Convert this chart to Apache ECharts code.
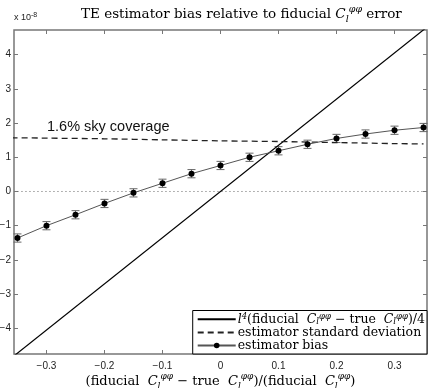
<!DOCTYPE html>
<html>
<head>
<meta charset="utf-8">
<script src="https://cdn.jsdelivr.net/npm/echarts@6/dist/echarts.min.js"></script>
<style>
  html, body { margin: 0; padding: 0; background: #fff; }
  #chart { width: 437px; height: 388px; }
</style>
</head>
<body>
<div id="chart"></div>
<script>
// values are in units of 1e-8
var xTicks = [-0.3, -0.2, -0.1, 0, 0.1, 0.2, 0.3];
var yTicks = [-4, -3, -2, -1, 0, 1, 2, 3, 4];

var biasX = [-0.35, -0.3, -0.25, -0.2, -0.15, -0.1, -0.05, 0, 0.05, 0.1, 0.15, 0.2, 0.25, 0.3, 0.35];
var biasY = [-1.36, -1.0, -0.68, -0.35, -0.04, 0.24, 0.52, 0.76, 1.0, 1.19, 1.38, 1.55, 1.68, 1.79, 1.87];
var biasErr = [0.12, 0.12, 0.12, 0.12, 0.12, 0.12, 0.12, 0.12, 0.12, 0.12, 0.12, 0.12, 0.12, 0.12, 0.12];

var sdX = [-0.36, -0.3, -0.2, -0.1, 0, 0.1, 0.2, 0.3, 0.35];
var sdY = [1.57, 1.56, 1.54, 1.51, 1.48, 1.46, 1.43, 1.40, 1.39];

var diffX = [-0.36, 0.36];
var diffY = [-4.86, 4.86];

var zeroX = [-0.35, 0.35];
var zeroY = [0, 0];

var chartCont = document.querySelector('#chart');
var myChart = echarts.init(chartCont);

function pairs(xs, ys) {
  return xs.map(function (x, i) { return [x, ys[i]]; });
}

var cl = '{it|C}{sub|l}{sup|φφ}';
var serif = 'DejaVu Serif';
var richSerif = function (size, lh) {
  var base = { fontFamily: serif, fontWeight: 'normal', color: '#000', lineHeight: lh || size + 6 };
  return {
    it: Object.assign({}, base, { fontStyle: 'italic', fontSize: size }),
    sub: Object.assign({}, base, { fontStyle: 'italic', fontSize: size - 4, verticalAlign: 'bottom' }),
    sup: Object.assign({}, base, { fontStyle: 'italic', fontSize: size - 4, verticalAlign: 'top' }),
    n: Object.assign({}, base, { fontSize: size })
  };
};

var legendNames = { diff: 'diff', sd: 'sd', bias: 'bias' };
var legendText = {
  diff: '{it|l}{sup|4}{n|(fiducial  }' + cl + '{n| − true  }' + cl + '{n|)/4}',
  sd: '{n|estimator standard deviation}',
  bias: '{n|estimator bias}'
};

var tickFmt = function (v) {
  var s = Math.abs(v) < 1e-9 ? '0' : (Math.abs(v) >= 1 ? String(Math.round(Math.abs(v))) : Math.abs(v).toFixed(1));
  return v < -1e-9 ? '\u2212' + s : s;
};

function tickCfg(vals) {
  return { show: true, inside: true, length: 4, customValues: vals, lineStyle: { color: '#777' } };
}
var noLine = { show: false, onZero: false };

option = {
  animation: false,
  backgroundColor: '#fff',
  title: {
    text: '{n|TE estimator bias relative to fiducial }' + cl + '{n| error}',
    left: 76,
    top: 0,
    textStyle: { rich: richSerif(13.5) }
  },
  grid: {
    left: 14, right: 10, top: 30, bottom: 34,
    outerBoundsMode: 'none',
    show: true, borderColor: '#777', borderWidth: 1.5, backgroundColor: '#fff'
  },
  xAxis: [
    {
      type: 'value', min: -0.356, max: 0.356, position: 'bottom',
      splitLine: { show: false }, axisLine: noLine, axisTick: tickCfg(xTicks),
      axisLabel: { customValues: xTicks, formatter: tickFmt, fontFamily: 'Liberation Sans', fontSize: 10, color: '#222', margin: 7 },
      name: '{n|(fiducial  }' + cl + '{n| − true  }' + cl + '{n|)/(fiducial  }' + cl + '{n|)}',
      nameLocation: 'middle',
      nameGap: 18,
      nameMoveOverlap: false,
      nameTextStyle: { rich: richSerif(13) }
    },
    {
      type: 'value', min: -0.356, max: 0.356, position: 'top',
      splitLine: { show: false }, axisLine: noLine, axisTick: tickCfg(xTicks),
      axisLabel: { show: false }
    }
  ],
  yAxis: [
    {
      type: 'value', min: -4.75, max: 4.72, position: 'left',
      splitLine: { show: false }, axisLine: noLine, axisTick: tickCfg(yTicks),
      axisLabel: { customValues: yTicks, formatter: tickFmt, fontFamily: 'Liberation Sans', fontSize: 10, color: '#222', margin: 3 }
    },
    {
      type: 'value', min: -4.75, max: 4.72, position: 'right',
      splitLine: { show: false }, axisLine: noLine, axisTick: tickCfg(yTicks),
      axisLabel: { show: false }
    }
  ],
  legend: {
    orient: 'vertical',
    right: 10,
    bottom: 34,
    align: 'left',
    itemWidth: 38,
    itemHeight: 7,
    itemGap: 0,
    padding: [2, 2, 2, 4],
    borderColor: '#000',
    borderWidth: 1,
    backgroundColor: '#fff',
    data: [
      { name: legendNames.diff, itemStyle: { opacity: 0 } },
      { name: legendNames.sd, itemStyle: { opacity: 0 } },
      { name: legendNames.bias }
    ],
    formatter: function (name) {
      for (var k in legendNames) { if (legendNames[k] === name) return legendText[k]; }
      return name;
    },
    textStyle: { rich: richSerif(12.5, 13.5), padding: [0, 0, 0, -3] }
  },
  graphic: [
    {
      type: 'text', left: 14, top: 12,
      style: { text: '{a|x 10}{b|-8}', rich: {
        a: { fontFamily: 'Liberation Sans', fontSize: 9, fill: '#222', lineHeight: 12 },
        b: { fontFamily: 'Liberation Sans', fontSize: 7, fill: '#222', verticalAlign: 'top', lineHeight: 12 }
      } }
    },
    {
      type: 'text', left: 47, top: 119,
      style: { text: '1.6% sky coverage', font: '14.5px "Liberation Sans"', fill: '#111' }
    }
  ],
  series: [
    {
      name: 'zero', type: 'line', data: pairs(zeroX, zeroY), symbol: 'none', silent: true,
      lineStyle: { color: '#666', width: 1, type: [1, 3] }
    },
    {
      name: legendNames.diff, type: 'line', data: pairs(diffX, diffY), symbol: 'none',
      lineStyle: { color: '#000', width: 1.2 }, itemStyle: { color: '#000' }, clip: true
    },
    {
      name: legendNames.sd, type: 'line', data: pairs(sdX, sdY), symbol: 'none', smooth: 0.3,
      lineStyle: { color: '#222', width: 1.3, type: [6, 4] }, itemStyle: { color: '#222' }, clip: true
    },
    {
      name: 'err', type: 'custom', silent: true,
      data: biasX.map(function (x, i) { return [x, biasY[i], biasErr[i]]; }),
      renderItem: function (params, api) {
        var x = api.value(0), y = api.value(1), e = api.value(2);
        var lo = api.coord([x, y - e]);
        var hi = api.coord([x, y + e]);
        var w = 4;
        var st = { stroke: '#666', lineWidth: 1 };
        return {
          type: 'group',
          children: [
            { type: 'line', shape: { x1: lo[0], y1: lo[1], x2: hi[0], y2: hi[1] }, style: st },
            { type: 'line', shape: { x1: lo[0] - w, y1: lo[1], x2: lo[0] + w, y2: lo[1] }, style: st },
            { type: 'line', shape: { x1: hi[0] - w, y1: hi[1], x2: hi[0] + w, y2: hi[1] }, style: st }
          ]
        };
      },
      z: 3
    },
    {
      name: legendNames.bias, type: 'line', data: pairs(biasX, biasY),
      symbol: 'circle', symbolSize: 6,
      lineStyle: { color: '#555', width: 1 }, itemStyle: { color: '#000' }, z: 4
    }
  ]
};

myChart.setOption(option);
</script>
</body>
</html>
